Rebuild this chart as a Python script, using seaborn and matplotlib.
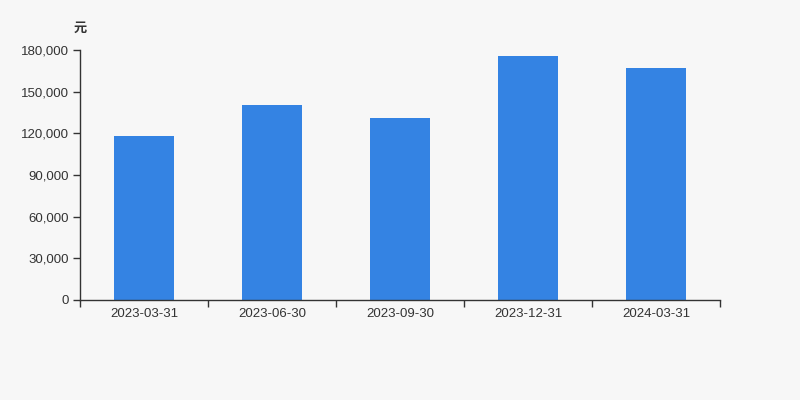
import matplotlib
matplotlib.use("Agg")
import matplotlib.pyplot as plt
import seaborn as sns
import pandas as pd
from matplotlib.ticker import FuncFormatter, FixedLocator

# data
dates = ["2023-03-31", "2023-06-30", "2023-09-30", "2023-12-31", "2024-03-31"]
values = [118300, 140200, 131000, 175700, 167000]
y_ticks = [0, 30000, 60000, 90000, 120000, 150000, 180000]
unit = "元"

df = pd.DataFrame({"date": dates, "value": values})

sns.set_theme(style="white")
plt.rcParams["font.family"] = ["Liberation Sans", "Noto Sans CJK SC", "DejaVu Sans"]

bg = "#f7f7f7"
fig = plt.figure(figsize=(8, 4), dpi=100, facecolor=bg)
ax = fig.add_axes([0.1, 0.25, 0.8, 0.625])
ax.set_facecolor(bg)

sns.barplot(data=df, x="date", y="value", color="#3483e3", width=0.47,
            saturation=1, ax=ax, edgecolor="none")

ax.set_xlim(-0.5, len(dates) - 0.5)
ax.set_ylim(0, 180000)
ax.set_yticks(y_ticks)
ax.yaxis.set_major_formatter(FuncFormatter(lambda v, p: f"{int(v):,}"))

# category labels centred, tick marks on the category boundaries
ax.xaxis.set_minor_locator(FixedLocator([i - 0.5 for i in range(len(dates) + 1)]))
ax.tick_params(axis="x", which="major", length=0, pad=6, labelsize=9.5, labelcolor="#333333")
ax.tick_params(axis="x", which="minor", length=5, width=1, color="#333333", direction="out")
ax.tick_params(axis="y", length=5, width=1, color="#333333", direction="out",
               labelsize=9.5, labelcolor="#333333", pad=3)
ax.tick_params(axis="both", which="both", bottom=True, left=True)

for side in ["top", "right"]:
    ax.spines[side].set_visible(False)
for side in ["left", "bottom"]:
    ax.spines[side].set_color("#333333")
    ax.spines[side].set_linewidth(1)

ax.set_xlabel("")
ax.set_ylabel("")
fig.text(0.1, 0.93, unit, ha="center", va="center", fontsize=9.5, fontweight="bold",
         color="#333333", family=["Noto Sans CJK SC", "DejaVu Sans"])

fig.savefig("out.png", dpi=100, facecolor=bg)
